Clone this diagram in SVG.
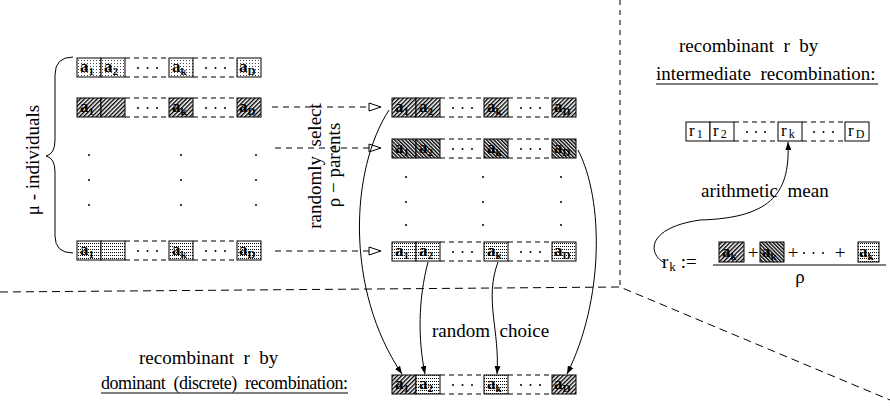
<svg xmlns="http://www.w3.org/2000/svg" width="890" height="410" viewBox="0 0 890 410">
<style>
.t{font-family:"Liberation Serif","Times New Roman",serif;font-size:19px;fill:#000;white-space:pre}
.b{font-family:"Liberation Serif","Times New Roman",serif;font-size:17px;font-weight:bold;fill:#000}
.s{font-size:11px}
.r{font-family:"Liberation Serif","Times New Roman",serif;font-size:17px;fill:#000}
.bx{stroke:#000;stroke-width:1}
.dl{stroke:#000;stroke-width:1;stroke-dasharray:5 4;fill:none}
.sep{stroke:#000;stroke-width:1;stroke-dasharray:8 5;fill:none}
.sepv{stroke:#000;stroke-width:1;stroke-dasharray:5 5;fill:none}
.ar{stroke:#000;stroke-width:1;stroke-dasharray:6 5;fill:none}
.cv{stroke:#000;stroke-width:1;fill:none}
.ln{stroke:#000;stroke-width:1.2;fill:none}
</style>
<defs>
<pattern id="hA" width="3" height="3" patternUnits="userSpaceOnUse" patternTransform="rotate(45)"><rect width="3" height="3" fill="#fff"/><rect width="1.4" height="3" fill="#000"/></pattern>
<pattern id="hB" width="2.6" height="2.6" patternUnits="userSpaceOnUse" patternTransform="rotate(-45)"><rect width="2.6" height="2.6" fill="#fff"/><rect width="1.4" height="2.6" fill="#000"/></pattern>
<pattern id="dt" width="3" height="3" patternUnits="userSpaceOnUse"><rect width="3" height="3" fill="#fff"/><rect width="1" height="1" fill="#444"/></pattern>
<pattern id="gr" width="2" height="3" patternUnits="userSpaceOnUse"><rect width="2" height="3" fill="#fff"/><rect width="1" height="1" fill="#000"/></pattern>
<marker id="oa" viewBox="0 0 14 10" refX="13" refY="5" markerWidth="14" markerHeight="10" markerUnits="userSpaceOnUse" orient="auto"><path d="M1,1L13,5L1,9Z" fill="#fff" stroke="#000" stroke-width="1"/></marker>
<marker id="fa" viewBox="0 0 8 6" refX="8" refY="3" markerWidth="8" markerHeight="6" markerUnits="userSpaceOnUse" orient="auto"><path d="M0,0L8,3L0,6Z" fill="#000"/></marker>
<g id="frame">
<path class="dl" d="M48,0H92M116,0H160M48,19H92M116,19H160"/>
<circle cx="61" cy="10" r="1"/><circle cx="70.5" cy="10" r="1"/><circle cx="80" cy="10" r="1"/>
<circle cx="129" cy="10" r="1"/><circle cx="138.5" cy="10" r="1"/><circle cx="148" cy="10" r="1"/>
</g>
</defs>
<rect width="890" height="410" fill="#fff"/>

<g id="separators">
<path class="sep" d="M0,292 L620,287 L890,400"/>
<path class="sepv" d="M620,0 V287"/>
</g>

<g id="population">
<path class="cv" d="M73,57 Q55,57 55,75 V140 Q55,154 46,156 Q55,158 55,172 V236 Q55,253 73,253"/>
<text class="t" transform="translate(39,160) rotate(-90)" text-anchor="middle">μ - individuals</text>
</g>

<g id="individual-1">
<use href="#frame" x="77" y="58"/>
<rect class="bx" x="77" y="58" width="24" height="19" fill="url(#dt)"/>
<rect class="bx" x="101" y="58" width="24" height="19" fill="url(#dt)"/>
<rect class="bx" x="169" y="58" width="24" height="19" fill="url(#dt)"/>
<rect class="bx" x="237" y="58" width="24" height="19" fill="url(#dt)"/>
<text class="b" x="80" y="72">a<tspan class="s" dy="3">1</tspan></text>
<text class="b" x="104" y="72">a<tspan class="s" dy="3">2</tspan></text>
<text class="b" x="172" y="72">a<tspan class="s" dy="3">k</tspan></text>
<text class="b" x="239" y="72">a<tspan class="s" dy="3">D</tspan></text>
</g>

<g id="individual-2">
<use href="#frame" x="77" y="98"/>
<rect class="bx" x="77" y="98" width="24" height="19" fill="url(#hA)"/>
<rect class="bx" x="101" y="98" width="24" height="19" fill="url(#hA)"/>
<rect class="bx" x="169" y="98" width="24" height="19" fill="url(#hA)"/>
<rect class="bx" x="237" y="98" width="24" height="19" fill="url(#hA)"/>
<text class="b" x="80" y="112">a<tspan class="s" dy="3">1</tspan></text>
<text class="b" x="172" y="112">a<tspan class="s" dy="3">k</tspan></text>
<text class="b" x="239" y="112">a<tspan class="s" dy="3">D</tspan></text>
</g>

<g id="individual-dots">
<circle cx="89" cy="155" r="1"/><circle cx="89" cy="180" r="1"/><circle cx="89" cy="205" r="1"/>
<circle cx="181" cy="155" r="1"/><circle cx="181" cy="180" r="1"/><circle cx="181" cy="205" r="1"/>
<circle cx="256" cy="155" r="1"/><circle cx="256" cy="180" r="1"/><circle cx="256" cy="205" r="1"/>
</g>

<g id="individual-mu">
<use href="#frame" x="77" y="241"/>
<rect class="bx" x="77" y="241" width="24" height="19" fill="url(#gr)"/>
<rect class="bx" x="101" y="241" width="24" height="19" fill="url(#gr)"/>
<rect class="bx" x="169" y="241" width="24" height="19" fill="url(#gr)"/>
<rect class="bx" x="237" y="241" width="24" height="19" fill="url(#gr)"/>
<text class="b" x="80" y="255">a<tspan class="s" dy="3">1</tspan></text>
<text class="b" x="172" y="255">a<tspan class="s" dy="3">k</tspan></text>
<text class="b" x="239" y="255">a<tspan class="s" dy="3">D</tspan></text>
</g>

<g id="selection-label">
<text class="t" transform="translate(321,166) rotate(-90)" text-anchor="middle">randomly  select</text>
<text class="t" transform="translate(340,165) rotate(-90)" text-anchor="middle">ρ − parents</text>
</g>

<g id="parent-1">
<use href="#frame" x="392" y="98"/>
<rect class="bx" x="392" y="98" width="24" height="19" fill="url(#hA)"/>
<rect class="bx" x="416" y="98" width="24" height="19" fill="url(#hA)"/>
<rect class="bx" x="484" y="98" width="24" height="19" fill="url(#hA)"/>
<rect class="bx" x="552" y="98" width="24" height="19" fill="url(#hA)"/>
<text class="b" x="395" y="112">a<tspan class="s" dy="3">1</tspan></text>
<text class="b" x="419" y="112">a<tspan class="s" dy="3">2</tspan></text>
<text class="b" x="487" y="112">a<tspan class="s" dy="3">k</tspan></text>
<text class="b" x="554" y="112">a<tspan class="s" dy="3">D</tspan></text>
</g>

<g id="parent-2">
<use href="#frame" x="392" y="139"/>
<rect class="bx" x="392" y="139" width="24" height="19" fill="url(#hB)"/>
<rect class="bx" x="416" y="139" width="24" height="19" fill="url(#hB)"/>
<rect class="bx" x="484" y="139" width="24" height="19" fill="url(#hB)"/>
<rect class="bx" x="552" y="139" width="24" height="19" fill="url(#hB)"/>
<text class="b" x="395" y="153">a<tspan class="s" dy="3">1</tspan></text>
<text class="b" x="419" y="153">a<tspan class="s" dy="3">2</tspan></text>
<text class="b" x="487" y="153">a<tspan class="s" dy="3">k</tspan></text>
<text class="b" x="554" y="153">a<tspan class="s" dy="3">D</tspan></text>
</g>

<g id="parent-dots">
<circle cx="406" cy="177" r="1"/><circle cx="406" cy="202" r="1"/><circle cx="406" cy="225" r="1"/>
<circle cx="483" cy="177" r="1"/><circle cx="483" cy="202" r="1"/><circle cx="483" cy="225" r="1"/>
<circle cx="561" cy="177" r="1"/><circle cx="561" cy="202" r="1"/><circle cx="561" cy="225" r="1"/>
</g>

<g id="parent-rho">
<use href="#frame" x="392" y="242"/>
<rect class="bx" x="392" y="242" width="24" height="19" fill="url(#gr)"/>
<rect class="bx" x="416" y="242" width="24" height="19" fill="url(#gr)"/>
<rect class="bx" x="484" y="242" width="24" height="19" fill="url(#gr)"/>
<rect class="bx" x="552" y="242" width="24" height="19" fill="url(#gr)"/>
<text class="b" x="395" y="256">a<tspan class="s" dy="3">1</tspan></text>
<text class="b" x="419" y="256">a<tspan class="s" dy="3">2</tspan></text>
<text class="b" x="487" y="256">a<tspan class="s" dy="3">k</tspan></text>
<text class="b" x="554" y="256">a<tspan class="s" dy="3">D</tspan></text>
</g>

<g id="dominant-offspring">
<use href="#frame" x="392" y="375"/>
<rect class="bx" x="392" y="375" width="24" height="19" fill="url(#hA)"/>
<rect class="bx" x="416" y="375" width="24" height="19" fill="url(#gr)"/>
<rect class="bx" x="484" y="375" width="24" height="19" fill="url(#gr)"/>
<rect class="bx" x="552" y="375" width="24" height="19" fill="url(#hA)"/>
<text class="b" x="395" y="389">a<tspan class="s" dy="3">1</tspan></text>
<text class="b" x="419" y="389">a<tspan class="s" dy="3">2</tspan></text>
<text class="b" x="487" y="389">a<tspan class="s" dy="3">k</tspan></text>
<text class="b" x="554" y="389">a<tspan class="s" dy="3">D</tspan></text>
</g>

<g id="dominant-label">
<text class="t" x="139" y="364">recombinant  r  by</text>
<text class="t" x="101" y="389" style="font-size:18px" textLength="247" lengthAdjust="spacing">dominant  (discrete)  recombination:</text>
<line class="ln" x1="101" y1="393" x2="348" y2="393"/>
</g>

<g id="random-choice-label">
<text class="t" x="432" y="337">random  choice</text>
</g>

<g id="intermediate-label">
<text class="t" x="679" y="52">recombinant  r  by</text>
<text class="t" x="656" y="80">intermediate  recombination:</text>
<line class="ln" x1="656" y1="84" x2="878" y2="84"/>
</g>

<g id="intermediate-offspring">
<path class="dl" d="M734,122H778M802,122H845M734,141H778M802,141H845"/>
<circle cx="747" cy="132" r="1"/><circle cx="756" cy="132" r="1"/><circle cx="765" cy="132" r="1"/>
<circle cx="814" cy="132" r="1"/><circle cx="823.5" cy="132" r="1"/><circle cx="833" cy="132" r="1"/>
<rect class="bx" x="686" y="122" width="24" height="19" fill="#fff"/>
<rect class="bx" x="710" y="122" width="24" height="19" fill="#fff"/>
<rect class="bx" x="778" y="122" width="24" height="19" fill="#fff"/>
<rect class="bx" x="845" y="122" width="24" height="19" fill="#fff"/>
<text class="r" x="689" y="136">r<tspan font-size="12" dx="2" dy="2">1</tspan></text>
<text class="r" x="713" y="136">r<tspan font-size="12" dx="2" dy="2">2</tspan></text>
<text class="r" x="781" y="136">r<tspan font-size="12" dx="2" dy="2">k</tspan></text>
<text class="r" x="848" y="136">r<tspan font-size="12" dx="2" dy="2">D</tspan></text>
</g>

<g id="arithmetic-label">
<text class="t" x="701" y="197">arithmetic  mean</text>
</g>

<g id="formula">
<text class="t" x="662" y="268">r<tspan font-size="13" dx="1" dy="3">k</tspan><tspan dx="5" dy="-3">:=</tspan></text>
<line x1="713" y1="265" x2="886" y2="265" stroke="#000" stroke-width="1.2"/>
<rect class="bx" x="719" y="242" width="25" height="20" fill="url(#hA)"/>
<rect class="bx" x="760" y="242" width="24" height="20" fill="url(#hB)"/>
<rect class="bx" x="858" y="242" width="21" height="20" fill="url(#gr)"/>
<text class="b" x="722" y="257">a<tspan class="s" dy="3">k</tspan></text>
<text class="b" x="762" y="257">a<tspan class="s" dy="3">k</tspan></text>
<text class="b" x="859" y="257">a<tspan class="s" dy="3">k</tspan></text>
<text class="t" x="753" y="259" text-anchor="middle">+</text>
<text class="t" x="793" y="259" text-anchor="middle">+</text>
<circle cx="804" cy="253" r="1"/><circle cx="813.5" cy="253" r="1"/><circle cx="823" cy="253" r="1"/>
<text class="t" x="840" y="259" text-anchor="middle">+</text>
<text class="t" x="800" y="283" text-anchor="middle">ρ</text>
</g>

<g id="connectors">
<path class="ar" d="M272,107H381" marker-end="url(#oa)"/>
<path class="ar" d="M275,148H381" marker-end="url(#oa)"/>
<path class="ar" d="M275,251H381" marker-end="url(#oa)"/>
<path class="cv" d="M389,110 C350,170 345,290 402,374" marker-end="url(#fa)"/>
<path class="cv" d="M428,262 C418,300 418,340 425,374" marker-end="url(#fa)"/>
<path class="cv" d="M498,262 C484,300 500,330 497,374" marker-end="url(#fa)"/>
<path class="cv" d="M578,150 C604,200 604,300 567,374" marker-end="url(#fa)"/>
<path class="cv" d="M665,263 C648,255 645,228 700,220 C775,218 790,190 788,142" marker-end="url(#fa)"/>
</g>
</svg>
